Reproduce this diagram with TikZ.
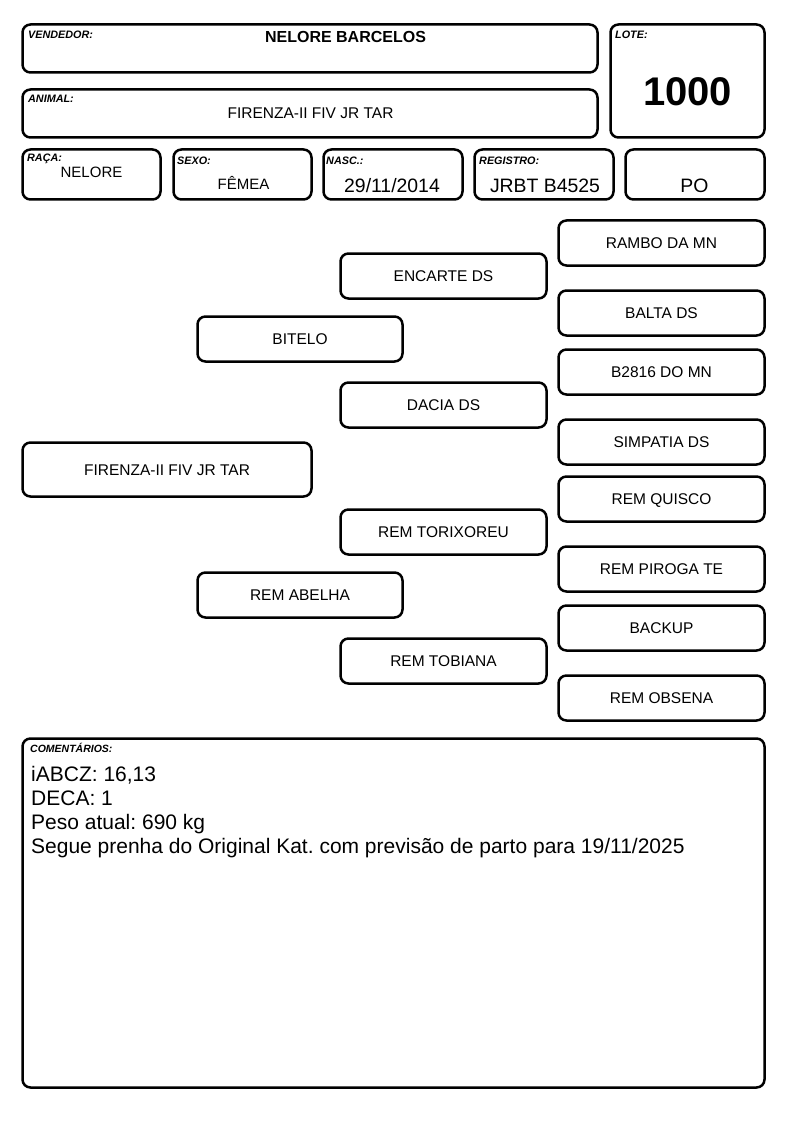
\documentclass[tikz,border=0pt]{standalone}
\usepackage{fontspec}
\setmainfont{Liberation Sans}
\frenchspacing
\begin{document}
\begin{tikzpicture}[x=1pt,y=-1pt,
  box/.style={draw=black,line width=2.5pt,rounded corners=8pt,inner sep=0pt,align=center},
  ped/.style={box,minimum width=206pt,minimum height=45pt,text height=11.1pt,text depth=0pt,
    font=\fontsize{15.5}{18}\selectfont},
  lbl/.style={anchor=base west,inner sep=0pt,font=\fontsize{10.8}{12}\selectfont\bfseries\itshape},
  val/.style={anchor=base,inner sep=0pt},
  com/.style={anchor=base west,inner sep=0pt,font=\fontsize{21}{24}\selectfont}]
\useasboundingbox (0,0) rectangle (794,1123);
\fill[white] (0,0) rectangle (794,1123);
% header boxes
\node[box,minimum width=575pt,minimum height=48pt] (vend) at (310,48.5) {};
\node[box,minimum width=154pt,minimum height=113pt] (lote) at (687.5,81) {};
\node[box,minimum width=575pt,minimum height=48pt] (anim) at (310,113.5) {};
\node[box,minimum width=138pt,minimum height=50pt] (raca) at (91.5,174.5) {};
\node[box,minimum width=138pt,minimum height=50pt] (sexo) at (242.5,174.5) {};
\node[box,minimum width=139pt,minimum height=50pt] (nasc) at (393,174.5) {};
\node[box,minimum width=139pt,minimum height=50pt] (regi) at (544,174.5) {};
\node[box,minimum width=139pt,minimum height=50pt] (po) at (695,174.5) {};
% header labels
\node[lbl] (lvend) at (28,39) {VENDEDOR:};
\node[lbl] (llote) at (615,39) {LOTE:};
\node[lbl] (lanim) at (28,103) {ANIMAL:};
\node[lbl] (lraca) at (27,162) {RAÇA:};
\node[lbl] (lsexo) at (177,164.5) {SEXO:};
\node[lbl] (lnasc) at (326,164.5) {NASC.:};
\node[lbl] (lregi) at (479,164.5) {REGISTRO:};
% header values
\node[val,font=\fontsize{16}{19}\selectfont\bfseries] (tvend) at (345.5,43) {NELORE BARCELOS};
\node[val,font=\fontsize{40}{46}\selectfont\bfseries] (tlote) at (687.5,106) {1000};
\node[val,font=\fontsize{15.5}{18}\selectfont] (tanim) at (310.5,119) {FIRENZA-II FIV JR TAR};
\node[val,font=\fontsize{15}{18}\selectfont] (traca) at (91.5,178) {NELORE};
\node[val,font=\fontsize{15}{18}\selectfont] (tsexo) at (243.5,189.5) {FÊMEA};
\node[val,font=\fontsize{19.4}{22}\selectfont] (tnasc) at (392,193) {29/11/2014};
\node[val,font=\fontsize{19.4}{22}\selectfont] (tregi) at (545,193) {JRBT B4525};
\node[val,font=\fontsize{19.4}{22}\selectfont] (tpo) at (694.5,193) {PO};
% pedigree
\node[ped,minimum width=289pt,minimum height=54pt] (p0) at (167,469.5) {FIRENZA-II FIV JR TAR};
\node[ped,minimum width=205pt] (p1) at (300,339) {BITELO};
\node[ped,minimum width=205pt] (p2) at (300,595) {REM ABELHA};
\node[ped] (p3) at (443.5,276) {ENCARTE DS};
\node[ped] (p4) at (443.5,405) {DACIA DS};
\node[ped] (p5) at (443.5,532) {REM TORIXOREU};
\node[ped] (p6) at (443.5,661) {REM TOBIANA};
\node[ped] (p7) at (661.5,243) {RAMBO DA MN};
\node[ped] (p8) at (661.5,313) {BALTA DS};
\node[ped] (p9) at (661.5,372) {B2816 DO MN};
\node[ped] (p10) at (661.5,442) {SIMPATIA DS};
\node[ped] (p11) at (661.5,499) {REM QUISCO};
\node[ped] (p12) at (661.5,569) {REM PIROGA TE};
\node[ped] (p13) at (661.5,628) {BACKUP};
\node[ped] (p14) at (661.5,698) {REM OBSENA};
% comments
\node[box,minimum width=742pt,minimum height=349pt] (combox) at (393.5,913) {};
\node[lbl,font=\fontsize{10.5}{12}\selectfont\bfseries\itshape] (lcom) at (30,752.5) {COMENTÁRIOS:};
\node[com] (c1) at (31,781) {iABCZ: 16,13};
\node[com] (c2) at (31,805.3) {DECA: 1};
\node[com] (c3) at (31,829.6) {Peso atual: 690 kg};
\node[com] (c4) at (31,853) {Segue prenha do Original Kat. com previsão de parto para 19/11/2025};
\end{tikzpicture}
\end{document}
